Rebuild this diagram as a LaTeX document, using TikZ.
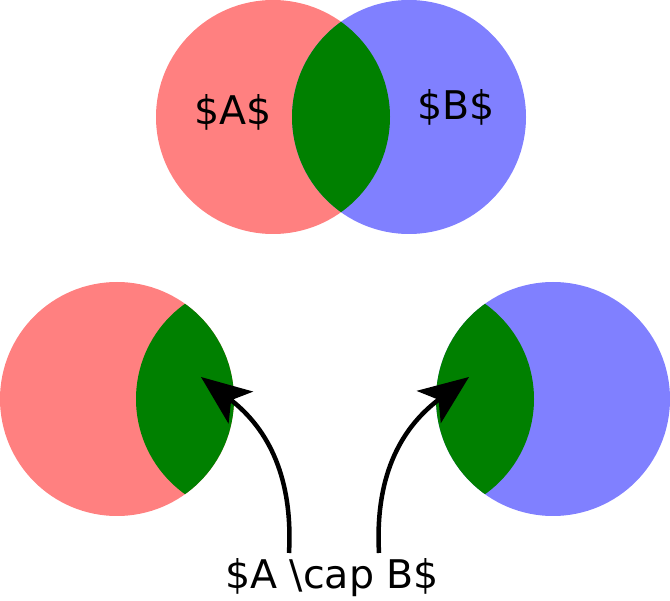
\documentclass[tikz,border=0pt]{standalone}
\usepackage{fontspec}
\setmainfont{DejaVu Sans}
\usetikzlibrary{arrows.meta}
\definecolor{setred}{HTML}{FF8080}
\definecolor{setblue}{HTML}{8080FF}
\definecolor{setgreen}{HTML}{008000}
\tikzset{
  lbl/.style={inner sep=0pt, font=\fontsize{39.5}{46}\selectfont},
  pointer/.style={line width=4.5pt, -{Stealth[length=50pt,width=40pt,inset=12pt]}}
}
\begin{document}
\begin{tikzpicture}[x=1pt,y=-1pt]
\useasboundingbox (0,0) rectangle (670,601);
% top
\fill[setred] (273,117) circle (117);
\fill[setblue] (409,117) circle (117);
\begin{scope}
  \clip (273,117) circle (117);
  \fill[setgreen] (409,117) circle (117);
\end{scope}
\node[lbl] (A) at (233,112) {\$A\$};
\node[lbl] (B) at (456,107) {\$B\$};
% bottom left
\fill[setred] (117,399) circle (117);
\begin{scope}
  \clip (117,399) circle (117);
  \fill[setgreen] (253,399) circle (117);
\end{scope}
% bottom right
\fill[setblue] (553,399) circle (117);
\begin{scope}
  \clip (553,399) circle (117);
  \fill[setgreen] (417,399) circle (117);
\end{scope}
\node[lbl] (cap) at (332,578) {\$A \textbackslash cap B\$};
\coordinate (ls) at (289,553);
\coordinate (lt) at (201,377);
\coordinate (rs) at (379,553);
\coordinate (rt) at (469,377);
\draw[pointer] (ls) .. controls (293,480) and (270,430) .. (lt);
\draw[pointer] (rs) .. controls (375,480) and (398,430) .. (rt);
\end{tikzpicture}
\end{document}
